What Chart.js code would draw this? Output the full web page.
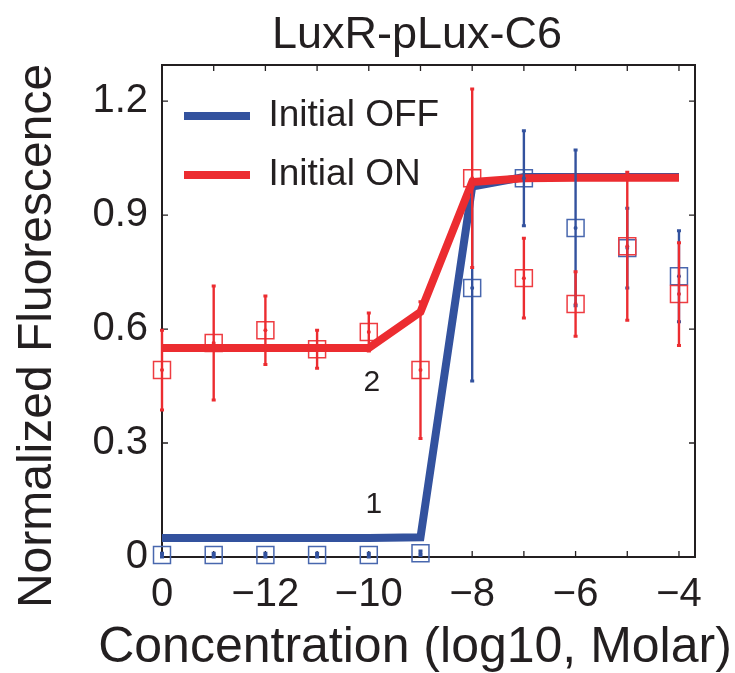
<!DOCTYPE html>
<html><head><meta charset="utf-8">
<script src="https://cdn.jsdelivr.net/npm/chart.js@4.4.1/dist/chart.umd.min.js"></script>
<style>html,body{margin:0;padding:0;background:#fff}</style>
</head><body>
<canvas id="c" width="735" height="673" style="display:block;width:735px;height:673px"></canvas>
<script>
// ---------- data ----------
const TITLE = 'LuxR-pLux-C6';
const X_TITLE = 'Concentration (log10, Molar)';
const Y_TITLE = 'Normalized Fluorescence';
const X_POS = [0, 1, 2, 3, 4, 5, 6, 7, 8, 9, 10];
const CONC_LABELS = ['0', '−13', '−12', '−11', '−10', '−9', '−8', '−7', '−6', '−5', '−4'];
const X_TICK_LABELS = ['0', '', '−12', '', '−10', '', '−8', '', '−6', '', '−4'];
const Y_TICKS = [0, 0.3, 0.6, 0.9, 1.2];
const SERIES_NAMES = ['Initial OFF', 'Initial ON'];
const FIT_OFF = [0.05, 0.05, 0.05, 0.05, 0.05, 0.052, 0.975, 1.0, 1.0, 1.0, 1.0];
const FIT_ON = [0.55, 0.55, 0.55, 0.55, 0.55, 0.645, 0.987, 0.997, 0.998, 0.998, 0.998];
const MEAN_OFF = [0.005, 0.005, 0.005, 0.005, 0.005, 0.01, 0.708, 0.997, 0.866, 0.813, 0.739];
const ERR_OFF = [0.005, 0.005, 0.005, 0.005, 0.005, 0.006, 0.245, 0.125, 0.205, 0.105, 0.12];
const MEAN_ON = [0.492, 0.563, 0.597, 0.547, 0.592, 0.492, 0.997, 0.734, 0.666, 0.818, 0.692];
const ERR_ON = [0.105, 0.15, 0.09, 0.05, 0.05, 0.18, 0.235, 0.105, 0.085, 0.195, 0.135];
const NOTE_TEXT = ['1', '2'];
const NOTE_X = [4.1, 4.06];
const NOTE_Y = [0.137, 0.46];

// ---------- style ----------
const FONT = "'Liberation Sans', Arial, Helvetica, sans-serif";
const INK = '#231f20';
const BLUE = '#33529E', RED = '#EC2C30';
const BLUE_SQ = '#4867AE', RED_SQ = '#EE3C41';

const pts = arr => X_POS.map((x, i) => ({x: x, y: arr[i]}));

const errorBars = {
  id: 'errorBars',
  afterDatasetsDraw(chart) {
    const ctx = chart.ctx, xs = chart.scales.x, ys = chart.scales.y;
    const draw = (mean, err, color) => {
      ctx.save();
      ctx.strokeStyle = color;
      X_POS.forEach((xv, i) => {
        const px = xs.getPixelForValue(xv);
        const t = ys.getPixelForValue(mean[i] + err[i]);
        const b = ys.getPixelForValue(mean[i] - err[i]);
        ctx.lineWidth = 2.4;
        ctx.beginPath(); ctx.moveTo(px, t); ctx.lineTo(px, b); ctx.stroke();
        ctx.lineWidth = 3;
        ctx.beginPath();
        ctx.moveTo(px - 2, t); ctx.lineTo(px + 2, t);
        ctx.moveTo(px - 2, b); ctx.lineTo(px + 2, b);
        ctx.stroke();
      });
      ctx.restore();
    };
    draw(MEAN_OFF, ERR_OFF, BLUE);
    draw(MEAN_ON, ERR_ON, RED);
  }
};

const frame = {
  id: 'frame',
  beforeDatasetsDraw(chart) {
    const ctx = chart.ctx, a = chart.chartArea, xs = chart.scales.x, ys = chart.scales.y;
    ctx.save();
    ctx.strokeStyle = INK;
    ctx.lineWidth = 2;
    ctx.strokeRect(a.left, a.top, a.right - a.left, a.bottom - a.top);
    ctx.lineWidth = 1.3;
    const L = 6;
    ctx.beginPath();
    xs.ticks.forEach(t => {
      const p = xs.getPixelForValue(t.value);
      ctx.moveTo(p, a.bottom); ctx.lineTo(p, a.bottom - L);
      ctx.moveTo(p, a.top); ctx.lineTo(p, a.top + L);
    });
    ys.ticks.forEach(t => {
      const p = ys.getPixelForValue(t.value);
      ctx.moveTo(a.left, p); ctx.lineTo(a.left + L, p);
      ctx.moveTo(a.right, p); ctx.lineTo(a.right - L, p);
    });
    ctx.stroke();
    ctx.restore();
  }
};

const texts = {
  id: 'texts',
  afterDraw(chart) {
    const ctx = chart.ctx, xs = chart.scales.x, ys = chart.scales.y;
    ctx.save();
    ctx.fillStyle = INK;
    ctx.textAlign = 'center';
    ctx.textBaseline = 'alphabetic';
    ctx.font = '45px ' + FONT;
    ctx.fillText(TITLE, 417, 48);
    ctx.font = '50px ' + FONT;
    ctx.fillText(X_TITLE, 415, 662);
    ctx.save();
    ctx.translate(51, 336);
    ctx.rotate(-Math.PI / 2);
    ctx.font = '48px ' + FONT;
    ctx.fillText(Y_TITLE, 0, 0);
    ctx.restore();
    ctx.font = '30px ' + FONT;
    ctx.textBaseline = 'middle';
    NOTE_TEXT.forEach((t, i) => {
      ctx.fillText(t, xs.getPixelForValue(NOTE_X[i]), ys.getPixelForValue(NOTE_Y[i]));
    });
    ctx.restore();
  }
};

new Chart(document.getElementById('c'), {
  type: 'line',
  data: {
    datasets: [
      {label: SERIES_NAMES[0], data: pts(FIT_OFF), borderColor: BLUE, backgroundColor: BLUE, borderWidth: 8,
       pointRadius: 0, tension: 0, order: 3, clip: false, borderJoinStyle: 'miter'},
      {label: SERIES_NAMES[1], data: pts(FIT_ON), borderColor: RED, backgroundColor: RED, borderWidth: 8,
       pointRadius: 0, tension: 0, order: 2, clip: false, borderJoinStyle: 'miter'},
      {label: 'OFF data', data: pts(MEAN_OFF), showLine: false, pointStyle: 'rect', pointRadius: 12,
       borderColor: BLUE_SQ, backgroundColor: 'rgba(0,0,0,0)', pointBorderWidth: 1.5, order: 5, clip: false},
      {label: 'ON data', data: pts(MEAN_ON), showLine: false, pointStyle: 'rect', pointRadius: 12,
       borderColor: RED_SQ, backgroundColor: 'rgba(0,0,0,0)', pointBorderWidth: 1.5, order: 4, clip: false},
      {label: 'OFF mean', data: pts(MEAN_OFF), showLine: false, pointStyle: 'circle', pointRadius: 2,
       borderWidth: 0, pointBorderWidth: 0, backgroundColor: BLUE, order: 1, clip: false},
      {label: 'ON mean', data: pts(MEAN_ON), showLine: false, pointStyle: 'circle', pointRadius: 2,
       borderWidth: 0, pointBorderWidth: 0, backgroundColor: RED, order: 0, clip: false}
    ]
  },
  options: {
    responsive: false,
    animation: false,
    events: [],
    layout: {padding: {top: 65, right: 40, left: 0, bottom: 0}},
    scales: {
      x: {
        type: 'linear', min: 0, max: 10.31,
        afterBuildTicks: s => { s.ticks = X_POS.map(v => ({value: v})); },
        afterFit: s => { s.height = 116; },
        grid: {display: false, drawTicks: false},
        border: {display: false},
        ticks: {
          autoSkip: false, maxRotation: 0, padding: 14, color: INK,
          font: {size: 40, family: FONT},
          callback: v => X_TICK_LABELS[X_POS.indexOf(v)]
        }
      },
      y: {
        type: 'linear', min: 0, max: 1.295,
        afterBuildTicks: s => { s.ticks = Y_TICKS.map(v => ({value: v})); },
        afterFit: s => { s.width = 162; },
        grid: {display: false, drawTicks: false},
        border: {display: false},
        ticks: {
          padding: 14, color: INK,
          font: {size: 40, family: FONT},
          callback: v => (v === 0 ? '0' : v.toFixed(1))
        }
      }
    },
    plugins: {
      title: {display: false},
      tooltip: {enabled: false},
      legend: {
        position: 'chartArea',
        align: 'start',
        title: {display: true, text: '', font: {size: 1}, padding: {top: 74.3, bottom: 0}},
        labels: {
          padding: 22,
          boxWidth: 66,
          boxHeight: 8,
          color: INK,
          font: {size: 37, family: FONT},
          generateLabels: chart => chart.data.datasets.slice(0, 2).map((d, i) => ({
            text: d.label, fillStyle: d.borderColor, strokeStyle: d.borderColor,
            lineWidth: 0, hidden: false, datasetIndex: i, fontColor: INK
          }))
        }
      }
    }
  },
  plugins: [frame, errorBars, texts]
});
</script>
</body></html>
